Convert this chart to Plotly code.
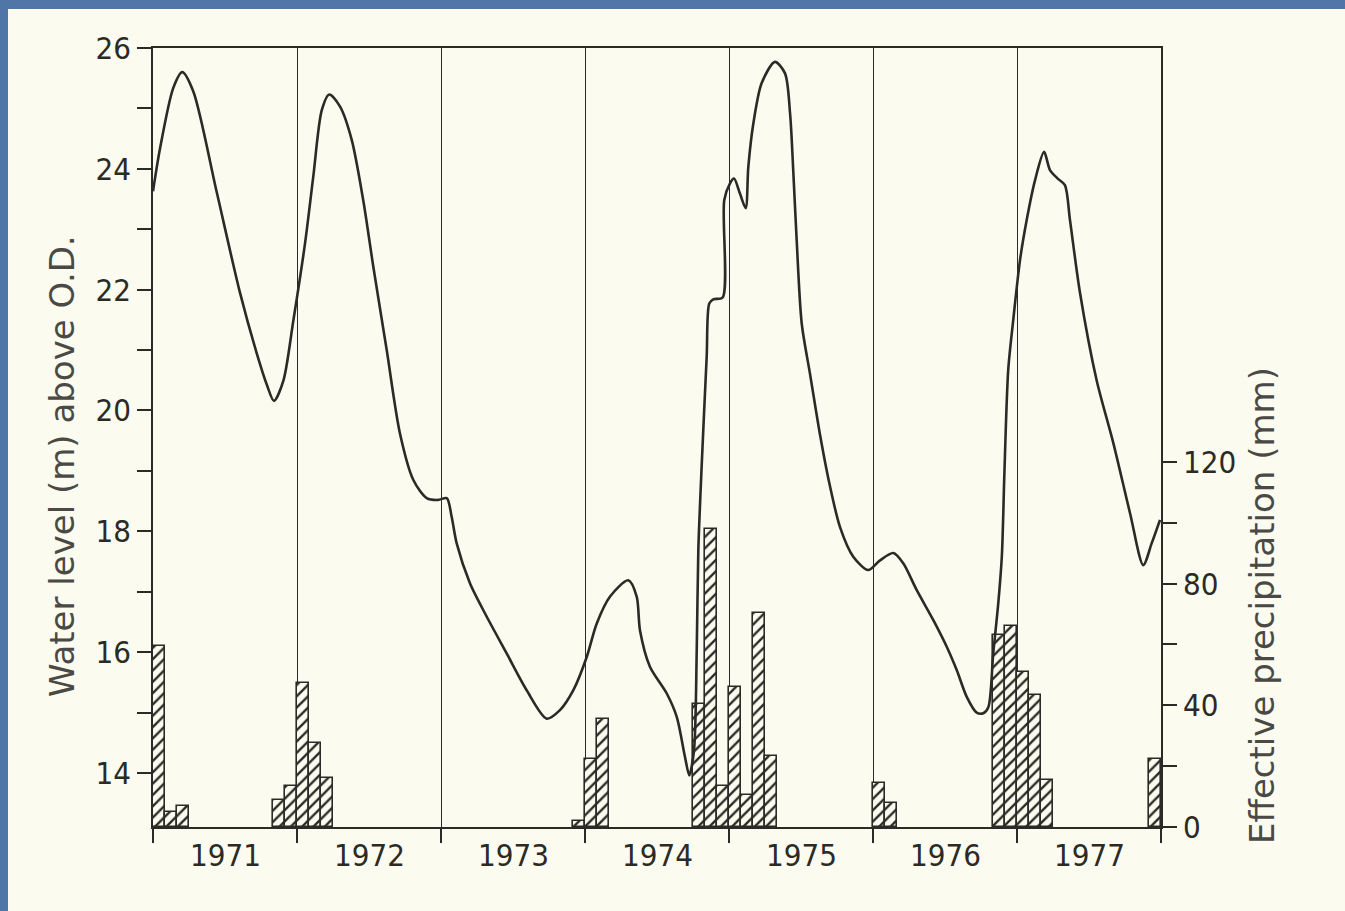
import plotly.graph_objects as go

# ---------------- data ----------------
# water level (m above O.D.), time in decimal years
level_t = [1971.000, 1971.049, 1971.141, 1971.203, 1971.280, 1971.442, 1971.604, 1971.720,
           1971.790, 1971.840, 1971.905, 1971.974, 1972.056, 1972.113, 1972.172, 1972.224,
           1972.299, 1972.380, 1972.460, 1972.530, 1972.623, 1972.715, 1972.808, 1972.901,
           1972.981, 1973.040, 1973.074, 1973.109, 1973.201, 1973.317, 1973.456, 1973.595,
           1973.734, 1973.826, 1973.919, 1974.012, 1974.081, 1974.174, 1974.301, 1974.359,
           1974.382, 1974.451, 1974.567, 1974.637, 1974.694, 1974.724, 1974.757, 1974.776,
           1974.787, 1974.810, 1974.845, 1974.863, 1974.891, 1974.956, 1974.967, 1975.007,
           1975.035, 1975.076, 1975.116, 1975.134, 1975.169, 1975.227, 1975.319, 1975.389,
           1975.424, 1975.447, 1975.470, 1975.505, 1975.563, 1975.632, 1975.701, 1975.771,
           1975.863, 1975.967, 1976.049, 1976.141, 1976.210, 1976.303, 1976.419, 1976.512,
           1976.582, 1976.651, 1976.720, 1976.766, 1976.801, 1976.835, 1976.870, 1976.895,
           1976.913, 1976.939, 1976.974, 1977.021, 1977.067, 1977.125, 1977.188, 1977.229,
           1977.287, 1977.333, 1977.368, 1977.438, 1977.553, 1977.669, 1977.785, 1977.877,
           1977.935, 1977.993]
level_m = [23.63, 24.34, 25.34, 25.60, 25.28, 23.62, 21.95, 20.95,
           20.43, 20.16, 20.49, 21.48, 22.77, 23.87, 24.97, 25.23,
           25.03, 24.48, 23.48, 22.38, 21.00, 19.62, 18.85, 18.55,
           18.52, 18.55, 18.24, 17.80, 17.14, 16.59, 15.98, 15.37,
           14.90, 15.04, 15.37, 15.92, 16.47, 16.92, 17.19, 16.92,
           16.36, 15.76, 15.32, 14.93, 14.27, 13.96, 14.38, 16.03,
           17.69, 19.07, 20.89, 21.77, 21.84, 21.87, 23.48, 23.76,
           23.84, 23.59, 23.35, 24.03, 24.75, 25.42, 25.77, 25.58,
           24.92, 23.93, 22.82, 21.44, 20.60, 19.60, 18.75, 18.07,
           17.58, 17.36, 17.52, 17.64, 17.47, 17.03, 16.53, 16.09,
           15.70, 15.26, 15.00, 14.99, 15.09, 15.98, 16.81, 17.60,
           19.00, 20.67, 21.50, 22.49, 23.15, 23.81, 24.28, 23.98,
           23.83, 23.73, 23.15, 21.94, 20.50, 19.46, 18.30, 17.44,
           17.80, 18.19]

# monthly effective precipitation (mm)
bar_year = [1971, 1971, 1971, 1971, 1971, 1972, 1972, 1972, 1973, 1974, 1974, 1974, 1974,
            1974, 1975, 1975, 1975, 1975, 1976, 1976, 1976, 1976, 1977, 1977, 1977, 1977]
bar_month = [1, 2, 3, 11, 12, 1, 2, 3, 12, 1, 2, 10, 11,
             12, 1, 2, 3, 4, 1, 2, 11, 12, 1, 2, 3, 12]
bar_mm = [59.5, 5.0, 7.0, 9.0, 13.5, 47.5, 27.5, 16.0, 2.0, 22.5, 35.5, 40.5, 98.0,
          13.5, 46.0, 10.5, 70.5, 23.5, 14.5, 8.0, 63.0, 66.0, 51.0, 43.5, 15.5, 22.5]

years = [1971, 1972, 1973, 1974, 1975, 1976, 1977]
year_edges = [1971, 1972, 1973, 1974, 1975, 1976, 1977, 1978]

level_ticks = list(range(14, 27))
level_ticktext = [str(v) if v % 2 == 0 else "" for v in level_ticks]
precip_ticks = [0, 20, 40, 60, 80, 100, 120]
precip_ticktext = [str(v) if v % 40 == 0 else "" for v in precip_ticks]

# ---------------- styling ----------------
INK = "#2b2a26"
PAPER = "#fbfbef"
BLUE = "#4f76a6"
FONT = "Liberation Sans Narrow, DejaVu Sans Condensed, Arial Narrow, sans-serif"
TFONT = "DejaVu Sans, sans-serif"

W, H = 1345, 911
L, R, T, B = 153, 184, 48, 84
pw, ph = W - L - R, H - T - B


def px_x(px):
    return (px - L) / pw


def px_y(py):
    return (H - B - py) / ph


bar_x = [y + (m - 0.5) / 12 for y, m in zip(bar_year, bar_month)]

fig = go.Figure()
fig.add_trace(go.Bar(
    x=bar_x, y=bar_mm, width=[1 / 12] * len(bar_x), yaxis="y",
    marker=dict(color=INK, line=dict(color=INK, width=1.6),
                pattern=dict(shape="/", size=8, solidity=0.3, fillmode="replace",
                             fgcolor=INK, bgcolor=PAPER)),
    showlegend=False, hoverinfo="skip",
))
fig.add_trace(go.Scatter(
    x=level_t, y=level_m, yaxis="y2", mode="lines",
    line=dict(color=INK, width=2.6, shape="spline", smoothing=0.8),
    showlegend=False, hoverinfo="skip",
))

annotations = []
for yr in years:
    annotations.append(dict(x=yr + 0.5, y=px_y(855), xref="x", yref="paper", text=str(yr),
                            showarrow=False, yanchor="middle", xanchor="center",
                            font=dict(family=FONT, size=31, color=INK)))
annotations.append(dict(x=px_x(62), y=px_y(466), xref="paper", yref="paper",
                        text="Water level (m) above O.D.", textangle=-90, showarrow=False,
                        xanchor="center", yanchor="middle",
                        font=dict(family=TFONT, size=34, color="#4a4944")))
annotations.append(dict(x=px_x(1262), y=px_y(606), xref="paper", yref="paper",
                        text="Effective precipitation (mm)", textangle=-90, showarrow=False,
                        xanchor="center", yanchor="middle",
                        font=dict(family=TFONT, size=34, color="#4a4944")))

shapes = [
    dict(type="rect", xref="paper", yref="paper", x0=px_x(0), x1=px_x(W), y0=px_y(9), y1=px_y(0),
         fillcolor=BLUE, line=dict(width=0), layer="above"),
    dict(type="rect", xref="paper", yref="paper", x0=px_x(0), x1=px_x(8), y0=px_y(H), y1=px_y(0),
         fillcolor=BLUE, line=dict(width=0), layer="above"),
]

fig.update_layout(
    width=W, height=H,
    margin=dict(l=L, r=R, t=T, b=B, pad=0),
    paper_bgcolor=PAPER, plot_bgcolor=PAPER,
    bargap=0, barmode="overlay",
    font=dict(family=FONT, size=31, color=INK),
    xaxis=dict(range=[1971, 1978], tickvals=year_edges, ticktext=[""] * len(year_edges),
               ticks="outside", ticklen=14, tickwidth=1.5, tickcolor=INK,
               showgrid=True, gridcolor=INK, gridwidth=1.3,
               showline=True, linecolor=INK, linewidth=1.6, mirror=True, zeroline=False),
    yaxis=dict(range=[0, 256.1], side="right", tickvals=precip_ticks, ticktext=precip_ticktext,
               ticks="outside", ticklen=14, tickwidth=1.5, tickcolor=INK,
               showgrid=False, zeroline=False, showline=True, linecolor=INK, linewidth=1.6,
               tickfont=dict(family=FONT, size=31, color=INK)),
    yaxis2=dict(range=[13.106, 26], side="left", overlaying="y", tickvals=level_ticks,
                ticktext=level_ticktext, ticks="outside", ticklen=14, tickwidth=1.5,
                tickcolor=INK, showgrid=False, zeroline=False, showline=True, linecolor=INK,
                linewidth=1.6, tickfont=dict(family=FONT, size=31, color=INK)),
    annotations=annotations,
    shapes=shapes,
)

fig.write_html(
    "out.html",
    config={"displayModeBar": False},
    post_script="document.body.style.margin='0';document.body.style.overflow='hidden';"
                "document.body.style.background='" + PAPER + "';",
)
